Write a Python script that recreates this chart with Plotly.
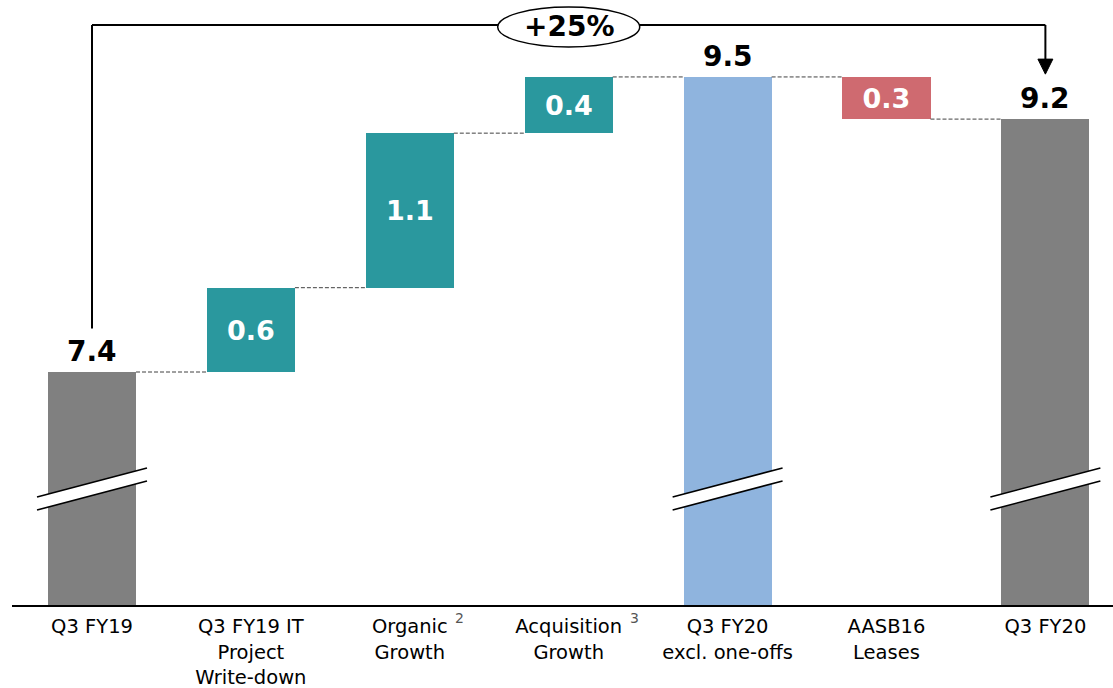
import plotly.graph_objects as go

# ---------------- data ----------------
categories = ["Q3 FY19", "Q3 FY19 IT<br>Project<br>Write-down", "Organic<br>Growth",
              "Acquisition<br>Growth", "Q3 FY20<br>excl. one-offs", "AASB16<br>Leases", "Q3 FY20"]
values = [7.4, 0.6, 1.1, 0.4, 9.5, -0.3, 9.2]
kinds = ["total", "delta", "delta", "delta", "total", "delta", "total"]
footnotes = {2: "2", 3: "3"}
growth_label = "+25%"

# ---------------- styles ----------------
GRAY = "#808080"
TEAL = "#2A989E"
BLUE = "#8FB4DE"
RED = "#CF6A70"
FONT = "DejaVu Sans, Verdana, sans-serif"
Y_RANGE = [5.7416, 10.0477]
X_RANGE = [-0.5035, 6.4255]
BAR_W = 0.554

# ---------------- compute waterfall ----------------
bases, heights, colors, tops = [], [], [], []
level = 0.0
for v, k in zip(values, kinds):
    if k == "total":
        bases.append(0.0)
        heights.append(v)
        level = v
        colors.append(BLUE if 0 < len(tops) < len(values) - 1 else GRAY)
        tops.append(v)
    else:
        if v >= 0:
            bases.append(level)
            heights.append(v)
            colors.append(TEAL)
        else:
            bases.append(level + v)
            heights.append(-v)
            colors.append(RED)
        level += v
        tops.append(level)

xs = list(range(len(categories)))
inside_text = [f"{abs(v):.1f}" if k == "delta" else "" for v, k in zip(values, kinds)]

fig = go.Figure()
fig.add_trace(go.Bar(
    x=xs, y=heights, base=bases, width=BAR_W,
    marker=dict(color=colors, line=dict(width=0)),
    text=inside_text, textposition="inside", insidetextanchor="middle",
    textangle=0, constraintext="none",
    textfont=dict(family=FONT, size=27, color="white", weight="bold"),
    hoverinfo="skip",
))

shapes = []
annotations = []

# connectors
for i in range(len(values) - 1):
    lvl = tops[i]
    shapes.append(dict(type="line", xref="x", yref="y",
                       x0=i + BAR_W / 2, x1=i + 1 - BAR_W / 2, y0=lvl, y1=lvl,
                       line=dict(color="#404040", width=1, dash="4px,2px")))

# total labels and break marks
half = 0.346
for i, (v, k) in enumerate(zip(values, kinds)):
    if k != "total":
        continue
    annotations.append(dict(x=i, y=v, xref="x", yref="y", text=f"<b>{v:.1f}</b>",
                            showarrow=False, yanchor="bottom", yshift=2,
                            font=dict(family=FONT, size=28, color="black")))
    yl_u, yl_l, yr_u, yr_l = 0.1785, 0.157, 0.2264, 0.205
    shapes.append(dict(type="path", xref="x", yref="y domain",
                       path=f"M {i-half} {yl_l} L {i-half} {yl_u} L {i+half} {yr_u} L {i+half} {yr_l} Z",
                       fillcolor="white", line=dict(width=0), layer="above"))
    shapes.append(dict(type="line", xref="x", yref="y domain", x0=i - half, x1=i + half,
                       y0=yl_u, y1=yr_u, line=dict(color="black", width=1.6)))
    shapes.append(dict(type="line", xref="x", yref="y domain", x0=i - half, x1=i + half,
                       y0=yl_l, y1=yr_l, line=dict(color="black", width=1.6)))

# growth bracket
first, last = 0, len(values) - 1
bracket_y = 0.9587
left_bottom = values[first] + 0.31
tip = values[last] + 0.32
head_h = 0.107
head_w = 0.047
shapes.append(dict(type="line", xref="x", yref="y", x0=first, x1=first,
                   y0=left_bottom, y1=Y_RANGE[0] + bracket_y * (Y_RANGE[1] - Y_RANGE[0]),
                   line=dict(color="black", width=2)))
shapes.append(dict(type="line", xref="x", yref="y domain", x0=first, x1=last,
                   y0=bracket_y, y1=bracket_y, line=dict(color="black", width=2)))
shapes.append(dict(type="line", xref="x", yref="y", x0=last, x1=last,
                   y0=Y_RANGE[0] + bracket_y * (Y_RANGE[1] - Y_RANGE[0]), y1=tip + head_h,
                   line=dict(color="black", width=2)))
shapes.append(dict(type="path", xref="x", yref="y",
                   path=f"M {last-head_w} {tip+head_h} L {last+head_w} {tip+head_h} L {last} {tip} Z",
                   fillcolor="black", line=dict(color="black", width=1)))
shapes.append(dict(type="circle", xref="x", yref="y domain",
                   x0=3 - 0.447, x1=3 + 0.447, y0=0.9223, y1=0.9884,
                   fillcolor="white", line=dict(color="black", width=1.5)))
annotations.append(dict(x=3, y=0.956, xref="x", yref="y domain", text=f"<b>{growth_label}</b>",
                        showarrow=False, yanchor="middle",
                        font=dict(family=FONT, size=28, color="black")))

# footnote superscripts
sup_shift = {2: 50, 3: 66}
for i, t in footnotes.items():
    annotations.append(dict(x=i, y=0, xref="x", yref="paper", text=t, showarrow=False,
                            xshift=sup_shift[i], yshift=-13, yanchor="middle",
                            font=dict(family=FONT, size=14, color="#555555")))

fig.update_layout(
    width=1113, height=688,
    margin=dict(l=12, r=0, t=0, b=83),
    paper_bgcolor="white", plot_bgcolor="white",
    showlegend=False, bargap=0,
    shapes=shapes, annotations=annotations,
    font=dict(family=FONT, color="black"),
    xaxis=dict(range=X_RANGE, tickvals=xs, ticktext=categories, ticks="",
               showgrid=False, zeroline=False, showline=True, linecolor="black", linewidth=1.5,
               ticklabelstandoff=3, automargin=False,
               tickfont=dict(family=FONT, size=19.5, color="black"), fixedrange=True),
    yaxis=dict(range=Y_RANGE, visible=False, showgrid=False, zeroline=False, fixedrange=True,
               automargin=False),
)

fig.write_html("out.html", config={"displayModeBar": False})
